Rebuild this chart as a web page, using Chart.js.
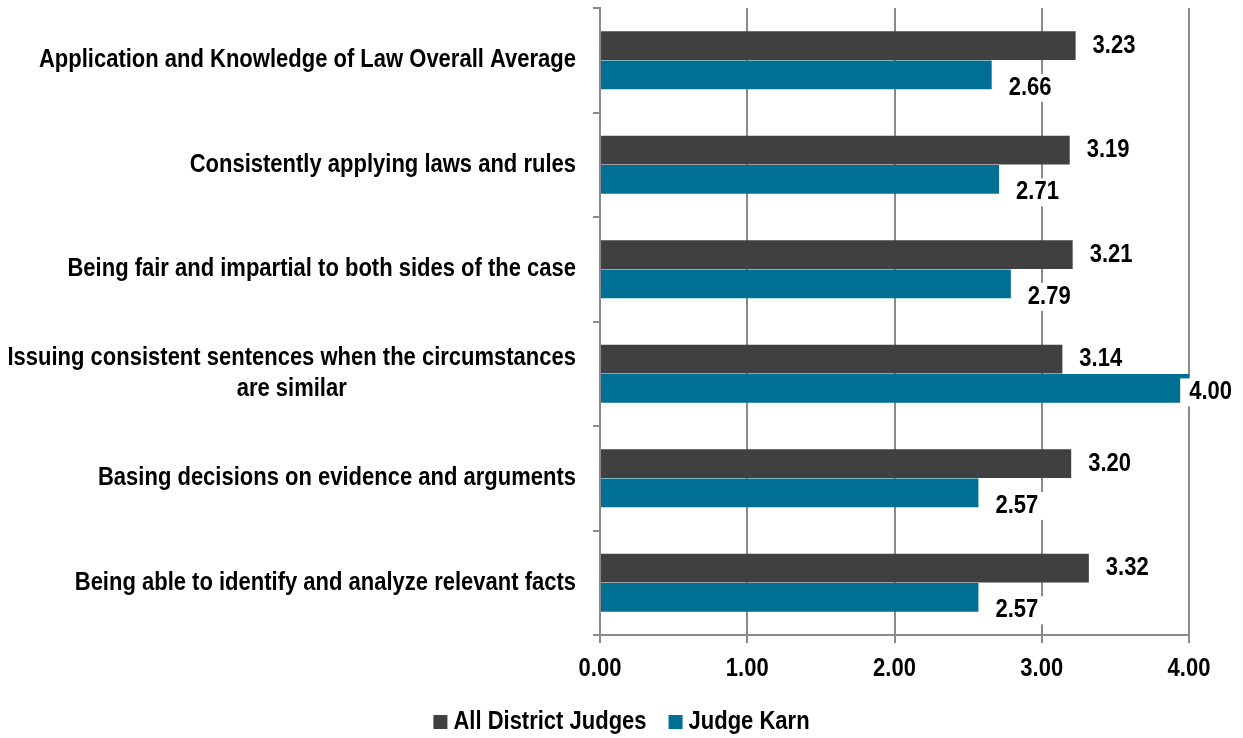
<!DOCTYPE html>
<html>
<head>
<meta charset="utf-8">
<script src="https://cdn.jsdelivr.net/npm/chart.js@4"></script>
<style>
  html, body { margin: 0; padding: 0; background: #fff; }
  #wrap { width: 1243px; height: 738px; position: relative; }
</style>
</head>
<body>
<div id="wrap"><canvas id="chart"></canvas></div>
<script>
  // values
  var categories = [
    "Application and Knowledge of Law Overall Average",
    "Consistently applying laws and rules",
    "Being fair and impartial to both sides of the case",
    ["Issuing consistent sentences when the circumstances", "are similar"],
    "Basing decisions on evidence and arguments",
    "Being able to identify and analyze relevant facts"
  ];
  var allDistrictJudges = [3.23, 3.19, 3.21, 3.14, 3.20, 3.32];
  var judgeKarn = [2.66, 2.71, 2.79, 4.00, 2.57, 2.57];
  var seriesNames = ["All District Judges", "Judge Karn"];
  var xTicks = [0, 1, 2, 3, 4];

  var DARK = "#404040";
  var TEAL = "#006f94";
  var GRID = "#8a8a8a";

  // no narrow font installed: squeeze Liberation Sans Bold (Arial metrics)
  var FONT = "bold 25px 'Liberation Sans', Arial, sans-serif";
  var SQUEEZE = 0.88;

  function textWidth(ctx, s) {
    ctx.font = FONT;
    return ctx.measureText(s).width * SQUEEZE;
  }

  // x is the left edge of the text
  function drawText(ctx, s, x, y) {
    ctx.save();
    ctx.font = FONT;
    ctx.fillStyle = "#000";
    ctx.textAlign = "left";
    ctx.textBaseline = "middle";
    ctx.translate(x, y);
    ctx.scale(SQUEEZE, 1);
    ctx.fillText(s, 0, 0);
    ctx.restore();
  }

  var textLayer = {
    id: "textLayer",
    afterDraw: function (chart) {
      var ctx = chart.ctx;
      var xs = chart.scales.x;
      var ys = chart.scales.y;
      var area = chart.chartArea;

      // category labels: right edge fixed, extra lines centred under the widest
      categories.forEach(function (label, i) {
        var lines = Array.isArray(label) ? label : [label];
        var w = 0;
        lines.forEach(function (l) { w = Math.max(w, textWidth(ctx, l)); });
        var cx = 576 - w / 2;
        var cy = ys.getPixelForTick(i);
        var lh = 31;
        var top = cy - (lines.length - 1) * lh / 2;
        lines.forEach(function (l, k) {
          drawText(ctx, l, cx - textWidth(ctx, l) / 2, top + k * lh);
        });
      });

      // x tick labels
      xTicks.forEach(function (v) {
        var s = v.toFixed(2);
        drawText(ctx, s, xs.getPixelForValue(v) - textWidth(ctx, s) / 2, area.bottom + 34);
      });

      // legend
      var colors = [DARK, TEAL];
      var box = 14, gapBox = 6, gapItem = 22;
      var total = 0;
      seriesNames.forEach(function (n, i) {
        total += box + gapBox + textWidth(ctx, n) + (i ? gapItem : 0);
      });
      var lx = (chart.width - total) / 2;
      var ly = 722;
      seriesNames.forEach(function (n, i) {
        ctx.fillStyle = colors[i];
        ctx.fillRect(lx, ly - box / 2, box, box);
        drawText(ctx, n, lx + box + gapBox, ly);
        lx += box + gapBox + textWidth(ctx, n) + gapItem;
      });
    },
    afterDatasetsDraw: function (chart) {
      // value labels with white box behind them
      var ctx = chart.ctx;
      chart.data.datasets.forEach(function (ds, di) {
        var meta = chart.getDatasetMeta(di);
        meta.data.forEach(function (bar, i) {
          var s = ds.data[i].toFixed(2);
          var w = textWidth(ctx, s);
          var x = bar.x + 17;
          var y = bar.y + (di === 0 ? 0 : 13);
          var pad = 5;
          var maxX = chart.width - w - 11;
          if (x > maxX) {
            // no room on the right: label pulled in over the bar end
            x = maxX;
            pad = 9;
            y = bar.y + 4;
          }
          ctx.fillStyle = "#fff";
          ctx.fillRect(x - pad, y - 14, w + pad + 5, 28);
          drawText(ctx, s, x, y);
        });
      });
    }
  };

  new Chart(document.getElementById("chart"), {
    type: "bar",
    data: {
      labels: categories,
      datasets: [
        {
          label: seriesNames[0],
          data: allDistrictJudges,
          backgroundColor: DARK,
          categoryPercentage: 0.56,
          barPercentage: 0.98
        },
        {
          label: seriesNames[1],
          data: judgeKarn,
          backgroundColor: TEAL,
          categoryPercentage: 0.56,
          barPercentage: 0.98
        }
      ]
    },
    options: {
      indexAxis: "y",
      responsive: true,
      maintainAspectRatio: false,
      animation: false,
      layout: { padding: { top: 8, right: 54, bottom: 0, left: 0 } },
      scales: {
        x: {
          min: 0,
          max: 4,
          afterBuildTicks: function (scale) {
            scale.ticks = xTicks.map(function (v) { return { value: v }; });
          },
          ticks: { display: false },
          grid: { color: GRID, lineWidth: 2, tickLength: 8 },
          border: { color: GRID, width: 2 },
          afterFit: function (scale) { scale.height = 103; }
        },
        y: {
          grid: {
            offset: true,
            drawOnChartArea: false,
            color: GRID,
            lineWidth: 2,
            tickLength: 7
          },
          border: { color: GRID, width: 2 },
          ticks: { display: false },
          afterFit: function (scale) { scale.width = 600; }
        }
      },
      plugins: {
        legend: { display: false },
        tooltip: { enabled: false }
      }
    },
    plugins: [textLayer]
  });
</script>
</body>
</html>
